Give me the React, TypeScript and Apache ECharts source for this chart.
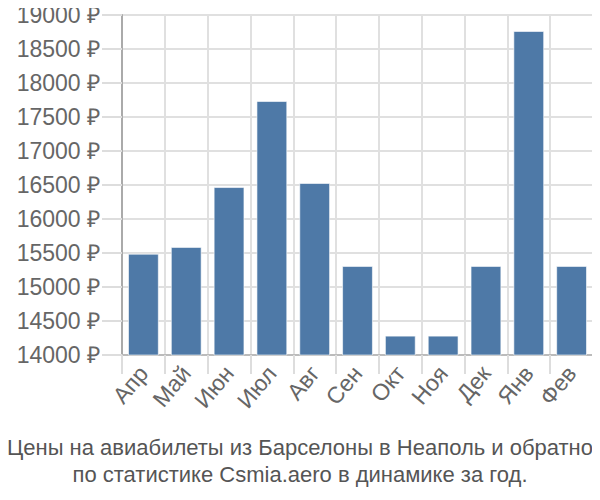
import React, { useEffect, useRef } from "react";
import * as echarts from "echarts";

const categories = ["Апр", "Май", "Июн", "Июл", "Авг", "Сен", "Окт", "Ноя", "Дек", "Янв", "Фев"];
const prices = [15490, 15590, 16470, 17735, 16530, 15310, 14285, 14285, 15310, 18765, 15310];
const titleLines = [
  "Цены на авиабилеты из Барселоны в Неаполь и обратно",
  "по статистике Csmia.aero в динамике за год.",
];

export default function App() {
  const ref = useRef<HTMLDivElement>(null);
  useEffect(() => {
    if (!ref.current) return;
    const chart = echarts.init(ref.current, null, { renderer: "svg" });
    chart.setOption({
      animation: false,
      title: {
        text: titleLines.join("\n"),
        left: "center",
        top: 429,
        textStyle: {
          fontFamily: "Liberation Sans, Arial, sans-serif",
          fontSize: 22,
          fontWeight: "normal",
          color: "#555",
          lineHeight: 27,
        },
      },
      grid: { left: 122, right: 7, top: 15, bottom: 145, containLabel: false },
      xAxis: {
        type: "category",
        data: categories,
        axisLine: { lineStyle: { color: "#bbb", width: 2 } },
        axisTick: { show: true, length: 19, lineStyle: { color: "#ddd", width: 2 }, alignWithLabel: false },
        splitLine: { show: true, lineStyle: { color: "#e0e0e0", width: 2 } },
        axisLabel: {
          rotate: 50,
          fontSize: 23,
          color: "#666",
          fontFamily: "Liberation Sans, Arial, sans-serif",
          margin: 14,
          interval: 0,
        },
      },
      yAxis: {
        type: "value",
        min: 14000,
        max: 19000,
        interval: 500,
        axisLine: { show: true, lineStyle: { color: "#aaa", width: 2 } },
        axisTick: { show: true, length: 20, lineStyle: { color: "#ddd", width: 2 } },
        splitLine: { show: true, lineStyle: { color: "#e0e0e0", width: 2 } },
        axisLabel: {
          formatter: (v: number) => `${v} ₽`,
          fontSize: 23,
          color: "#666",
          fontFamily: "Liberation Sans, Arial, sans-serif",
          margin: 22,
        },
      },
      series: [
        {
          type: "bar",
          data: prices,
          barCategoryGap: "28%",
          itemStyle: {
            color: "#4e79a7",
            borderColor: "rgba(255,255,255,0.6)",
            borderWidth: 1,
          },
        },
      ],
    });
    return () => chart.dispose();
  }, []);
  return <div ref={ref} style={{ width: 600, height: 500, margin: -8 }} />;
}
